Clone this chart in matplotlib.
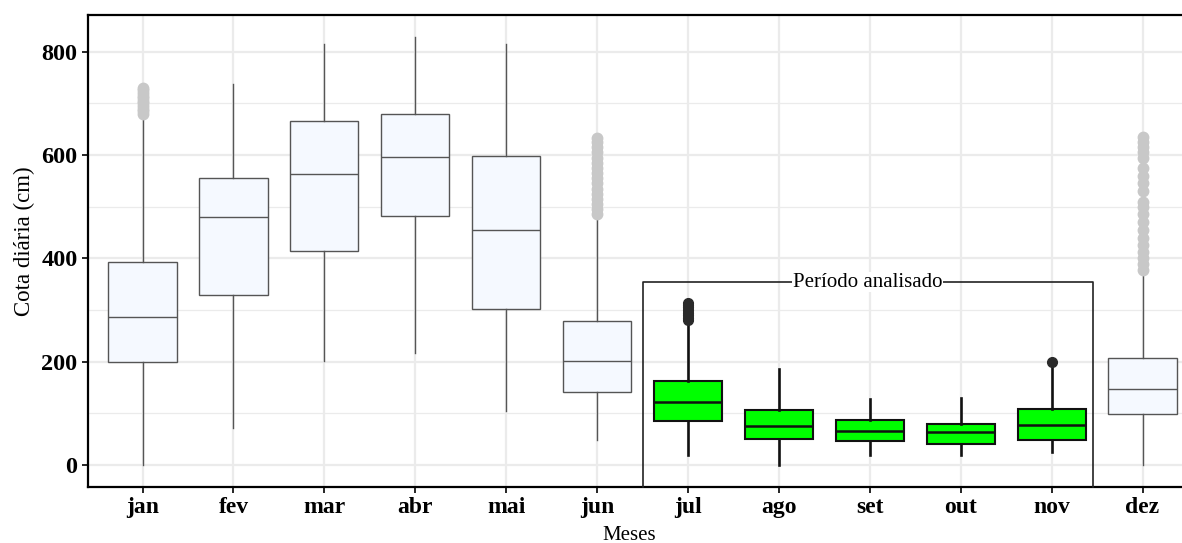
import matplotlib
matplotlib.use("Agg")
import matplotlib.pyplot as plt
from matplotlib.ticker import MultipleLocator

plt.rcParams['font.family'] = ['Liberation Serif', 'DejaVu Serif']

meses = ['jan', 'fev', 'mar', 'abr', 'mai', 'jun', 'jul', 'ago', 'set', 'out', 'nov', 'dez']
q1 = [200, 330, 415, 481, 301, 142, 86, 51, 46, 40, 48, 99]
mediana = [286, 480, 563, 597, 455, 201, 121, 76, 65, 63, 77, 147]
q3 = [392, 556, 665, 680, 598, 279, 163, 106, 88, 80, 109, 208]
whis_low = [0, 71, 202, 217, 105, 48, 19, 0, 19, 20, 25, 0]
whis_high = [672, 737, 815, 829, 815, 481, 274, 186, 127, 130, 190, 370]
outliers = [
    [680, 685, 690, 695, 700, 705, 710, 715, 720, 725, 730],
    [],
    [],
    [],
    [],
    [486, 495, 505, 515, 525, 535, 545, 555, 565, 575, 585, 595, 605, 615, 625, 632],
    [280, 285, 290, 295, 300, 305, 310, 313],
    [],
    [],
    [],
    [200],
    [377, 390, 400, 412, 425, 440, 455, 470, 485, 500, 510, 530, 545, 560, 574, 594, 605, 615, 625, 635],
]
analisado = ['jul', 'ago', 'set', 'out', 'nov']
topo_periodo = 354
texto_periodo = 'Período analisado'

fig = plt.figure(figsize=(11.82, 5.43), dpi=100)
ax = fig.add_axes([0.07445, 0.1031, 0.9383, 0.8693])

pos = list(range(1, len(meses) + 1))
stats_claro, pos_claro, stats_verde, pos_verde = [], [], [], []
for i, m in enumerate(meses):
    d = dict(q1=q1[i], med=mediana[i], q3=q3[i], whislo=whis_low[i], whishi=whis_high[i],
             fliers=outliers[i], label=m)
    if m in analisado:
        stats_verde.append(d); pos_verde.append(pos[i])
    else:
        stats_claro.append(d); pos_claro.append(pos[i])

ax.bxp(stats_claro, positions=pos_claro, widths=0.75, patch_artist=True, showcaps=False,
       boxprops=dict(facecolor='#F5F9FF', edgecolor='#555555', linewidth=1.0),
       medianprops=dict(color='#555555', linewidth=1.0),
       whiskerprops=dict(color='#555555', linewidth=1.0),
       flierprops=dict(marker='o', markersize=7.5, markerfacecolor='#C8C8C8',
                       markeredgecolor='#C8C8C8'),
       zorder=3)
ax.bxp(stats_verde, positions=pos_verde, widths=0.75, patch_artist=True, showcaps=False,
       boxprops=dict(facecolor='#00FF00', edgecolor='#111111', linewidth=1.5),
       medianprops=dict(color='#111111', linewidth=1.8),
       whiskerprops=dict(color='#111111', linewidth=1.9),
       flierprops=dict(marker='o', markersize=7, markerfacecolor='#2a2a2a',
                       markeredgecolor='#2a2a2a'),
       zorder=3)

ax.set_xlim(0.4, 12.6)
ax.set_ylim(-42.6, 871)
ax.set_xticks(pos)
ax.set_xticklabels(meses, fontsize=17, fontweight='bold')
ax.yaxis.set_major_locator(MultipleLocator(200))
ax.yaxis.set_minor_locator(MultipleLocator(100))
for lab in ax.get_yticklabels():
    lab.set_fontsize(17.5); lab.set_fontweight('bold')
ax.tick_params(axis='both', which='major', length=4.5, width=1.2, color='black', pad=3)
ax.tick_params(axis='y', which='minor', length=0)
ax.grid(True, which='major', color='#EBEBEB', linewidth=1.6, zorder=0)
ax.grid(True, which='minor', axis='y', color='#EBEBEB', linewidth=0.9, zorder=0)
ax.set_axisbelow(True)
for s in ax.spines.values():
    s.set_linewidth(1.6); s.set_color('black')

ax.set_ylabel('Cota diária (cm)', fontsize=16.5)
ax.yaxis.set_label_coords(-0.048, 0.52)
ax.set_xlabel('Meses', fontsize=15)
ax.xaxis.set_label_coords((629 - 88) / (0.9383 * 1182), -0.082)

# bracket for analysed period
i0 = meses.index(analisado[0]) + 1
i1 = meses.index(analisado[-1]) + 1
xl, xr = i0 - 0.5, i1 + 0.45
yb = ax.get_ylim()[0]
ax.plot([xl, xl, xr, xr], [yb, topo_periodo, topo_periodo, yb], color='#222222',
        linewidth=1.2, zorder=4, clip_on=False)
ax.text((xl + xr) / 2, topo_periodo, texto_periodo, ha='center', va='center', fontsize=15,
        zorder=5, bbox=dict(facecolor='white', edgecolor='none', pad=0.5))

fig.savefig('out.png', dpi=100)
